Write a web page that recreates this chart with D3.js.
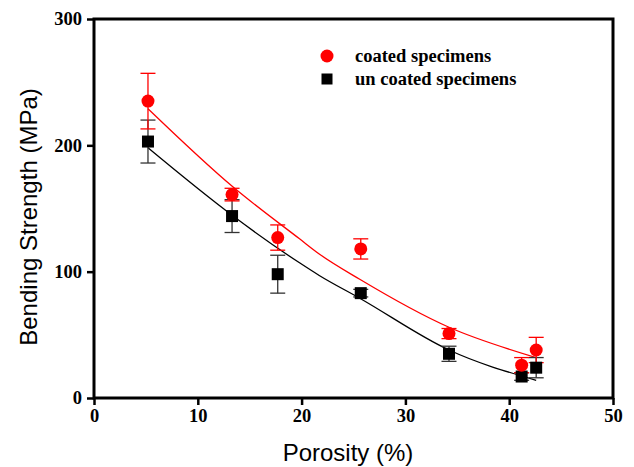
<!DOCTYPE html>
<html>
<head>
<meta charset="utf-8">
<script src="https://cdn.jsdelivr.net/npm/d3@7"></script>
<style>
  html, body { margin: 0; padding: 0; background: #fff; }
  svg { display: block; }
</style>
</head>
<body>
<div id="chart"></div>
<script>
// porosity (%) for each specimen group
const porosity = [5.2, 13.3, 17.7, 25.7, 34.2, 41.2, 42.6];

// coated specimens
const coatedMean = [235, 161, 127, 118, 51, 26, 38];
const coatedErr  = [22, 5, 10, 8, 4, 6, 10];

// uncoated specimens
const uncoatedMean = [203, 144, 98, 83, 35, 17, 24];
const uncoatedErr  = [17, 13, 15, 3, 6, 3, 8];

// fitted trend curves
const coatedFitX = [5.2, 13.4, 19.8, 21.7, 25.6, 34.2, 42.6];
const coatedFitY = [229, 167, 126, 114, 94, 56, 32];
const uncoatedFitX = [5.2, 13.4, 19.8, 21.7, 25.6, 34.2, 42.6];
const uncoatedFitY = [198, 144, 107, 97, 79, 38, 14];

const xTicks = [0, 10, 20, 30, 40, 50];
const yTicks = [0, 100, 200, 300];

const width = 634, height = 467;
const margin = { top: 19, right: 21, bottom: 69, left: 94 };
const innerW = width - margin.left - margin.right;
const innerH = height - margin.top - margin.bottom;

const svg = d3.select('#chart')
    .append('svg')
    .attr('width', width)
    .attr('height', height);

const g = svg.append('g')
    .attr('transform', `translate(${margin.left},${margin.top})`);

const x = d3.scaleLinear().domain([0, 50]).range([0, innerW]);
const y = d3.scaleLinear().domain([0, 300]).range([innerH, 0]);

const series = [
    { mean: uncoatedMean, err: uncoatedErr, fitX: uncoatedFitX, fitY: uncoatedFitY, color: '#000', errColor: '#333', shape: 'square' },
    { mean: coatedMean, err: coatedErr, fitX: coatedFitX, fitY: coatedFitY, color: '#ff0000', errColor: '#ff0000', shape: 'circle' }
];

const line = d3.line().x(d => x(d[0])).y(d => y(d[1])).curve(d3.curveMonotoneX);

// fit curves
series.forEach(s => {
    g.append('path')
        .attr('d', line(s.fitX.map((xv, i) => [xv, s.fitY[i]])))
        .attr('fill', 'none')
        .attr('stroke', s.color)
        .attr('stroke-width', 1.3);
});

// error bars
series.forEach(s => {
    const eb = g.append('g');
    porosity.forEach((p, i) => {
        const cx = x(p);
        const top = y(s.mean[i] + s.err[i]);
        const bot = y(s.mean[i] - s.err[i]);
        eb.append('line').attr('x1', cx).attr('x2', cx).attr('y1', top).attr('y2', bot)
            .attr('stroke', s.errColor).attr('stroke-width', 1.3);
        [top, bot].forEach(yy => {
            eb.append('line').attr('x1', cx - 7.5).attr('x2', cx + 7.5).attr('y1', yy).attr('y2', yy)
                .attr('stroke', s.errColor).attr('stroke-width', 1.3);
        });
    });
});

// markers
series.forEach(s => {
    porosity.forEach((p, i) => {
        if (s.shape === 'circle') {
            g.append('circle').attr('cx', x(p)).attr('cy', y(s.mean[i])).attr('r', 6.5)
                .attr('fill', s.color);
        } else {
            g.append('rect').attr('x', x(p) - 6).attr('y', y(s.mean[i]) - 6)
                .attr('width', 12).attr('height', 12).attr('fill', s.color);
        }
    });
});

// frame
g.append('rect')
    .attr('x', 0).attr('y', 0).attr('width', innerW).attr('height', innerH)
    .attr('fill', 'none').attr('stroke', '#000').attr('stroke-width', 3);

// axes
const tickFont = '"Liberation Serif", "Times New Roman", serif';
const xAxis = g.append('g')
    .attr('transform', `translate(0,${innerH})`)
    .call(d3.axisBottom(x).tickValues(xTicks).tickSize(7).tickPadding(4).tickFormat(d3.format('d')));
const yAxis = g.append('g')
    .call(d3.axisLeft(y).tickValues(yTicks).tickSize(7).tickPadding(5).tickFormat(d3.format('d')));

[xAxis, yAxis].forEach(a => {
    a.select('.domain').remove();
    a.selectAll('.tick line').attr('stroke', '#000').attr('stroke-width', 2.5);
    a.selectAll('.tick text')
        .attr('fill', '#000')
        .style('font-family', tickFont)
        .style('font-weight', 'bold')
        .style('font-size', '18.5px');
});

// axis titles
svg.append('text')
    .attr('x', 348)
    .attr('y', 461)
    .attr('text-anchor', 'middle')
    .style('font-family', '"Liberation Sans", Arial, sans-serif')
    .style('font-size', '24px')
    .text('Porosity (%)');

svg.append('text')
    .attr('transform', `translate(37,217) rotate(-90)`)
    .attr('text-anchor', 'middle')
    .style('font-family', '"Liberation Sans", Arial, sans-serif')
    .style('font-size', '24px')
    .text('Bending Strength (MPa)');

// legend
const legend = svg.append('g');
const legendItems = [
    { label: 'coated specimens', color: '#ff0000', shape: 'circle', y: 56 },
    { label: 'un coated specimens', color: '#000', shape: 'square', y: 79 }
];
legendItems.forEach(d => {
    if (d.shape === 'circle') {
        legend.append('circle').attr('cx', 327).attr('cy', d.y).attr('r', 6.5).attr('fill', d.color);
    } else {
        legend.append('rect').attr('x', 321.5).attr('y', d.y - 5.5).attr('width', 11).attr('height', 11).attr('fill', d.color);
    }
    legend.append('text')
        .attr('x', 355).attr('y', d.y + 6)
        .style('font-family', tickFont)
        .style('font-weight', 'bold')
        .style('font-size', '18.5px')
        .text(d.label);
});
</script>
</body>
</html>
